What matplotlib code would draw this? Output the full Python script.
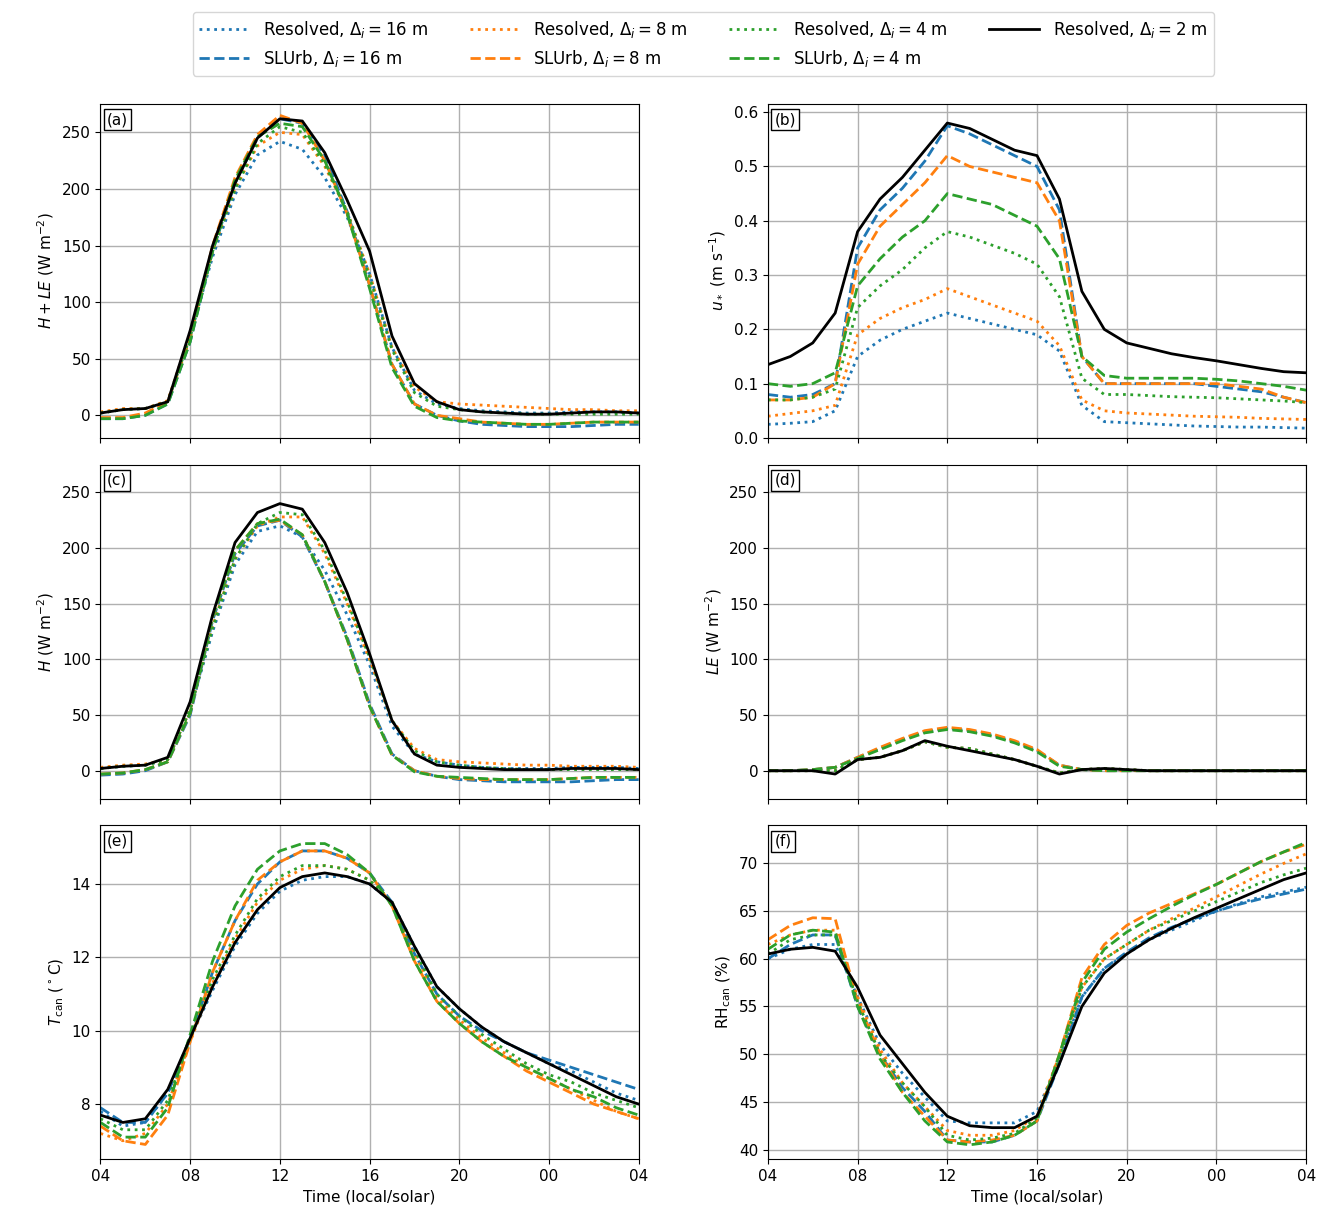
import numpy as np
import matplotlib
matplotlib.use("Agg")
import matplotlib.pyplot as plt

# hourly samples, 04 local -> 04 next day
hours = np.arange(4, 29)
xtick_labels = ["04", "08", "12", "16", "20", "00", "04"]

# (a) H + LE
hle_res16 = [2,5,6,12,70,140,195,230,242,235,210,175,125,60,22,10,6,4,3,2,2,3,3,3,2]
hle_slu16 = [-3,-3,0,10,65,145,205,245,262,258,230,180,115,45,10,0,-5,-8,-9,-10,-10,-10,-9,-8,-8]
hle_res8 = [3,6,6,13,72,145,200,238,250,248,220,180,125,60,25,12,10,9,8,7,6,5,5,4,4]
hle_slu8 = [-2,-2,2,12,68,150,210,248,265,258,225,178,115,45,10,0,-3,-6,-7,-8,-8,-7,-6,-6,-6]
hle_res4 = [2,5,6,12,70,145,200,240,255,250,222,180,122,58,20,8,5,3,2,1,1,1,1,1,1]
hle_slu4 = [-3,-3,0,10,65,145,208,246,258,255,225,178,112,42,8,-2,-5,-6,-7,-8,-8,-7,-6,-6,-6]
hle_res2 = [2,5,6,12,75,150,205,245,262,260,232,190,145,70,28,12,5,3,2,1,1,2,3,3,2]

# (b) u*
us_res16 = [.025,.027,.03,.05,.15,.18,.2,.215,.23,.22,.21,.2,.19,.16,.06,.03,.028,.026,.024,.022,.021,.02,.02,.019,.018]
us_slu16 = [.08,.075,.08,.1,.35,.42,.46,.51,.575,.56,.54,.52,.5,.42,.15,.1,.1,.1,.1,.1,.095,.09,.085,.075,.065]
us_res8 = [.04,.045,.05,.06,.19,.22,.24,.255,.275,.26,.245,.23,.215,.17,.07,.05,.046,.044,.042,.04,.039,.038,.036,.035,.034]
us_slu8 = [.07,.07,.075,.1,.32,.39,.43,.47,.52,.5,.49,.48,.47,.4,.15,.1,.1,.1,.1,.1,.1,.095,.09,.075,.065]
us_res4 = [.07,.07,.075,.09,.24,.28,.31,.35,.38,.37,.355,.34,.32,.26,.11,.08,.08,.078,.076,.075,.074,.072,.07,.068,.065]
us_slu4 = [.1,.095,.1,.12,.28,.33,.37,.4,.45,.44,.43,.41,.39,.33,.15,.115,.11,.11,.11,.11,.108,.105,.1,.095,.088]
us_res2 = [.135,.15,.175,.23,.38,.44,.48,.53,.58,.57,.55,.53,.52,.44,.27,.2,.175,.165,.155,.148,.142,.135,.128,.122,.12]

# (c) H
h_res16 = [2,4,5,10,55,125,185,215,220,210,180,140,95,40,15,8,5,3,2,2,2,3,3,3,2]
h_slu16 = [-4,-3,0,8,50,135,195,220,225,210,170,120,60,15,0,-5,-8,-9,-10,-10,-10,-10,-9,-8,-8]
h_res8 = [3,5,6,10,55,130,190,220,228,228,195,150,100,45,20,10,8,7,6,5,5,4,4,4,3]
h_slu8 = [-3,-2,1,8,52,138,198,222,225,212,170,118,58,14,0,-5,-7,-8,-8,-8,-8,-7,-6,-6,-6]
h_res4 = [2,4,5,10,55,128,190,222,232,230,198,152,102,45,18,8,5,3,2,1,1,1,1,1,1]
h_slu4 = [-3,-2,1,8,52,138,198,222,226,212,170,118,58,14,-1,-5,-6,-7,-8,-8,-8,-7,-6,-6,-6]
h_res2 = [2,4,5,12,62,140,205,232,240,235,205,160,105,45,15,5,3,2,1,1,1,2,2,2,1]

# (d) LE
le_res16 = [0,0,0,0,10,12,18,26,21,20,15,10,4,-2,1,2,1,0,0,0,0,0,0,0,0]
le_slu16 = [0,0,1,3,12,20,28,35,38,36,32,26,18,5,1,0,0,0,0,0,0,0,0,0,0]
le_res8 = [0,0,0,0,10,12,18,26,21,20,15,10,4,-2,1,2,1,0,0,0,0,0,0,0,0]
le_slu8 = [0,0,1,3,12,21,29,36,39,37,33,27,19,5,1,0,0,0,0,0,0,0,0,0,0]
le_res4 = [0,0,0,0,10,12,18,26,21,20,15,10,4,-2,1,2,1,0,0,0,0,0,0,0,0]
le_slu4 = [0,0,1,3,11,19,27,34,37,35,31,25,17,4,1,0,0,0,0,0,0,0,0,0,0]
le_res2 = [0,0,0,-3,10,12,18,27,22,18,14,10,4,-3,1,2,1,0,0,0,0,0,0,0,0]

# (e) T_can
t_res16 = [7.8,7.4,7.5,8.3,9.8,11.1,12.3,13.2,13.8,14.1,14.2,14.2,14.0,13.5,12.3,11.2,10.6,10.1,9.7,9.4,9.1,8.9,8.6,8.3,8.1]
t_slu16 = [7.9,7.5,7.5,8.3,9.8,11.6,13.0,14.0,14.6,14.9,14.9,14.7,14.3,13.5,12.1,11.0,10.4,10.0,9.7,9.4,9.2,9.0,8.8,8.6,8.4]
t_res8 = [7.2,7.0,7.2,8.0,9.7,11.3,12.5,13.5,14.1,14.4,14.5,14.4,14.1,13.5,12.1,10.9,10.3,9.8,9.4,9.0,8.7,8.4,8.1,7.8,7.6]
t_slu8 = [7.4,7.0,6.9,7.7,9.7,11.6,13.0,14.1,14.6,14.9,14.9,14.7,14.3,13.4,11.9,10.8,10.2,9.7,9.3,8.9,8.6,8.3,8.0,7.8,7.6]
t_res4 = [7.6,7.3,7.3,8.1,9.8,11.4,12.6,13.6,14.2,14.5,14.5,14.4,14.1,13.5,12.2,11.0,10.4,9.9,9.5,9.1,8.8,8.6,8.3,8.1,7.9]
t_slu4 = [7.5,7.1,7.1,7.9,9.9,11.9,13.4,14.4,14.9,15.1,15.1,14.8,14.3,13.4,11.9,10.8,10.2,9.7,9.3,9.0,8.7,8.4,8.2,7.9,7.7]
t_res2 = [7.7,7.5,7.6,8.4,9.8,11.2,12.4,13.3,13.9,14.2,14.3,14.2,14.0,13.5,12.3,11.2,10.6,10.1,9.7,9.4,9.1,8.8,8.5,8.2,8.0]

# (f) RH_can
rh_res16 = [60,61,61.5,61.5,56,51,48,45.5,43,42.8,42.8,42.8,44,49.5,56,59,60.5,62,63,64,65,65.8,66.5,67,67.5]
rh_slu16 = [60,61.5,62.5,62.5,55,50,46.5,44,41,40.8,40.8,41.5,43,49,56,59,60.7,62.2,63.3,64.2,65,65.7,66.3,66.8,67.3]
rh_res8 = [61.5,62.5,63,63,56,50.5,47,44.5,42,41.5,41.5,42,43.5,50,57,60,61.5,63,64.2,65.3,66.5,67.7,68.9,70,71]
rh_slu8 = [62,63.5,64.3,64.2,55.5,50,46,43.5,41,40.8,41,41.5,43,50,58,61.5,63.5,64.8,65.8,66.8,67.8,69,70.2,71.2,72]
rh_res4 = [60.5,62,62.5,62.5,55.5,50,47,44.5,41.5,41,41.2,41.7,43.3,49.5,57,60,61.5,63,64,65,66,67,68,68.8,69.5]
rh_slu4 = [61,62.5,63,62.8,55,49.5,46,43,40.8,40.5,40.8,41.5,43,50,57.5,61,62.8,64.2,65.5,66.7,67.8,69,70.2,71.2,72.2]
rh_res2 = [60.5,61,61.2,60.8,57,52,49,46,43.5,42.5,42.3,42.3,43.5,49,55,58.5,60.5,62,63.2,64.3,65.3,66.3,67.3,68.3,69]

C16, C8, C4 = "#1f77b4", "#ff7f0e", "#2ca02c"

def draw(ax, d):
    res16, slu16, res8, slu8, res4, slu4, res2 = d
    ax.plot(hours, res16, ":", color=C16, lw=2, label=r"Resolved, $\Delta_i = 16$ m")
    ax.plot(hours, slu16, "--", color=C16, lw=2, label=r"SLUrb, $\Delta_i = 16$ m")
    ax.plot(hours, res8, ":", color=C8, lw=2, label=r"Resolved, $\Delta_i = 8$ m")
    ax.plot(hours, slu8, "--", color=C8, lw=2, label=r"SLUrb, $\Delta_i = 8$ m")
    ax.plot(hours, res4, ":", color=C4, lw=2, label=r"Resolved, $\Delta_i = 4$ m")
    ax.plot(hours, slu4, "--", color=C4, lw=2, label=r"SLUrb, $\Delta_i = 4$ m")
    ax.plot(hours, res2, "-", color="k", lw=2, label=r"Resolved, $\Delta_i = 2$ m")

fig, axes = plt.subplots(3, 2, figsize=(13.22, 12.24), dpi=100)
fig.subplots_adjust(left=0.076, right=0.988, top=0.915, bottom=0.053, wspace=0.24, hspace=0.08)

panels = [
    ((hle_res16, hle_slu16, hle_res8, hle_slu8, hle_res4, hle_slu4, hle_res2), r"$H + LE$ (W m$^{-2}$)", (-20, 275), [0, 50, 100, 150, 200, 250]),
    ((us_res16, us_slu16, us_res8, us_slu8, us_res4, us_slu4, us_res2), r"$u_*$ (m s$^{-1}$)", (0, 0.615), [0, .1, .2, .3, .4, .5, .6]),
    ((h_res16, h_slu16, h_res8, h_slu8, h_res4, h_slu4, h_res2), r"$H$ (W m$^{-2}$)", (-25, 275), [0, 50, 100, 150, 200, 250]),
    ((le_res16, le_slu16, le_res8, le_slu8, le_res4, le_slu4, le_res2), r"$LE$ (W m$^{-2}$)", (-25, 275), [0, 50, 100, 150, 200, 250]),
    ((t_res16, t_slu16, t_res8, t_slu8, t_res4, t_slu4, t_res2), r"$T_{\rm can}$ ($^\circ$C)", (6.5, 15.6), [8, 10, 12, 14]),
    ((rh_res16, rh_slu16, rh_res8, rh_slu8, rh_res4, rh_slu4, rh_res2), r"RH$_{\rm can}$ (%)", (39, 74), [40, 45, 50, 55, 60, 65, 70]),
]
letters = "abcdef"

for i, (ax, (d, ylab, ylim, yt)) in enumerate(zip(axes.flat, panels)):
    draw(ax, d)
    ax.set_xlim(4, 28)
    ax.set_ylim(*ylim)
    ax.set_yticks(yt)
    ax.set_xticks(np.arange(4, 29, 4))
    ax.grid(True, color="#b0b0b0", lw=1)
    ax.set_ylabel(ylab, fontsize=11)
    ax.tick_params(labelsize=11)
    if i >= 4:
        ax.set_xticklabels(xtick_labels)
        ax.set_xlabel("Time (local/solar)", fontsize=11)
    else:
        ax.set_xticklabels([])
    ax.text(0.012, 0.975, f"({letters[i]})", transform=ax.transAxes, fontsize=11,
            va="top", ha="left", bbox=dict(boxstyle="square,pad=0.2", fc="white", ec="k"))

handles, labels = axes[0, 0].get_legend_handles_labels()
fig.legend(handles, labels, loc="upper center", ncol=4, bbox_to_anchor=(0.532, 0.997),
           fontsize=12, handlelength=3, columnspacing=2.5)

plt.savefig("out.png")
